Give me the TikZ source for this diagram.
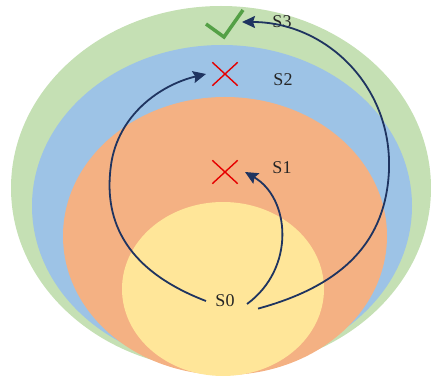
\documentclass[tikz,border=0pt]{standalone}
\usepackage{fontspec}
\setmainfont{Liberation Serif}
\usetikzlibrary{arrows.meta,shapes.misc}
\begin{document}
\begin{tikzpicture}[x=1pt,y=-1pt,
    lbl/.style={font=\fontsize{18}{20}\selectfont, text=black!85},
    fail/.style={cross out, draw=red!90!black, line width=1.4pt, minimum width=24pt, minimum height=22pt, inner sep=0pt},
    hop/.style={draw=navyline, line width=1.8pt, -{Stealth[length=13pt,width=12pt,inset=2pt]}}]
    % Mau nen cho tung tang
    \definecolor{lagreen}{RGB}{197,224,180}
    \definecolor{lablue}{RGB}{157,195,230}
    \definecolor{laorange}{RGB}{244,177,131}
    \definecolor{layellow}{RGB}{255,230,153}
    \definecolor{navyline}{RGB}{31,52,96}
    \definecolor{okgreen}{RGB}{84,160,70}

    \useasboundingbox (0,0) rectangle (431,379);

    % 1. Cac ellipse long nhau
    \fill[lagreen] (221,188) ellipse [x radius=210, y radius=182];
    \fill[lablue] (222,206) ellipse [x radius=190, y radius=161];
    \fill[laorange] (225,236) ellipse [x radius=162, y radius=139];
    \fill[layellow] (223,289) ellipse [x radius=101, y radius=87];

    % 2. Nhan va dau
    \node[lbl] (s0) at (225,301) {S0};
    \node[lbl] (s1) at (282,168) {S1};
    \node[lbl] (s2) at (283,80) {S2};
    \node[lbl] (s3) at (282,22) {S3};
    \node[fail] (x1) at (225,172) {};
    \node[fail] (x2) at (225,74) {};
    \coordinate (ok) at (225,26);
    \draw[okgreen, line width=3.5pt] (206,24) -- (224,37) -- (243,10);

    % 3. Cac mui ten
    \draw[hop] ([xshift=9pt,yshift=-3pt]s0.east) .. controls (296,268) and (290,198) .. ([xshift=20pt]x1.center);
    \draw[hop] ([xshift=-6pt]s0.west) .. controls (120,268) and (104,215) .. (111,165)
        .. controls (118,115) and (160,85) .. ([xshift=-19pt]x2.center);
    \draw[hop] ([xshift=20pt,yshift=2pt]s0.south east) .. controls (345,285) and (386,240) .. (389,170)
        .. controls (392,85) and (325,22) .. ([xshift=17pt,yshift=4pt]ok);
\end{tikzpicture}
\end{document}
